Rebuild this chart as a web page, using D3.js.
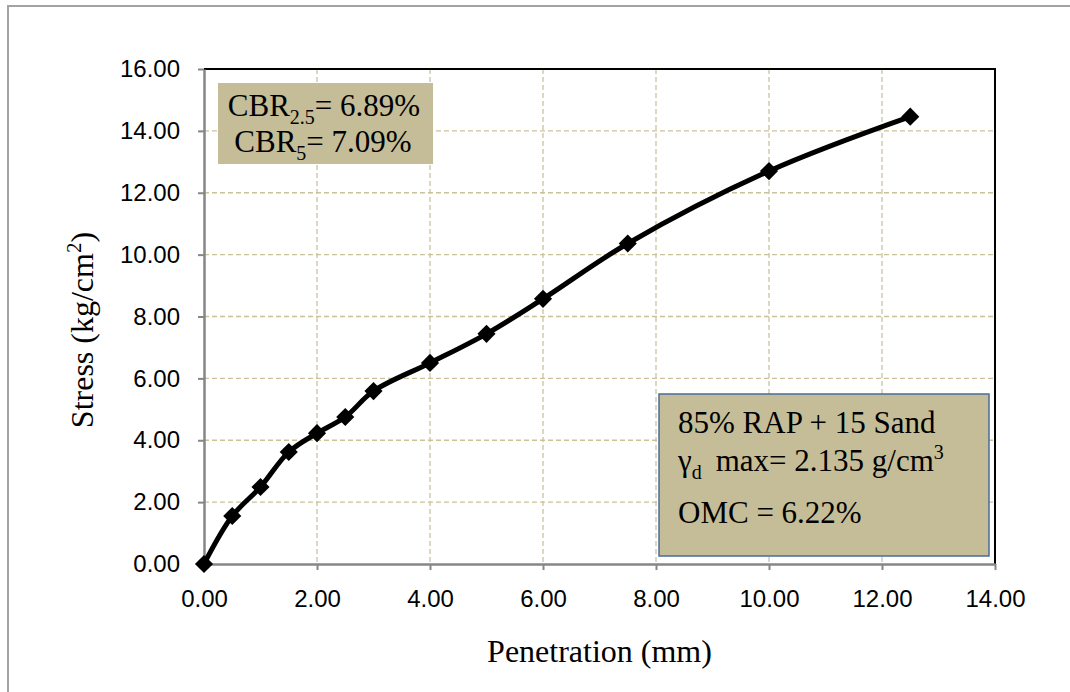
<!DOCTYPE html>
<html>
<head>
<meta charset="utf-8">
<script src="https://cdn.jsdelivr.net/npm/d3@7"></script>
<style>
  body { margin: 0; background: #fff; }
  svg { display: block; }
</style>
</head>
<body>
<script>
const W = 1070, H = 692;

// data
const penetration = [0, 0.5, 1, 1.5, 2, 2.5, 3, 4, 5, 6, 7.5, 10, 12.5];
const stress = [0, 1.55, 2.49, 3.62, 4.23, 4.75, 5.59, 6.5, 7.44, 8.57, 10.36, 12.7, 14.46];
const xTicks = [0, 2, 4, 6, 8, 10, 12, 14];
const yTicks = [0, 2, 4, 6, 8, 10, 12, 14, 16];

const pLeft = 204, pRight = 995, pTop = 69, pBottom = 564;

const svg = d3.select("body").append("svg")
  .attr("width", W)
  .attr("height", H);

// outer chart frame
svg.append("path")
  .attr("d", `M8,${H + 5} L8,6 L${W + 5},6`)
  .attr("fill", "none")
  .attr("stroke", "#a3a3a3")
  .attr("stroke-width", 2);

const x = d3.scaleLinear().domain([0, 14]).range([pLeft, pRight]);
const y = d3.scaleLinear().domain([0, 16]).range([pBottom, pTop]);

// gridlines
const grid = svg.append("g");
grid.selectAll("line.gx")
  .data(xTicks.slice(1, -1))
  .enter().append("line")
  .attr("x1", d => x(d)).attr("x2", d => x(d))
  .attr("y1", pTop).attr("y2", pBottom)
  .attr("stroke", "#cbc29c").attr("stroke-width", 1.3)
  .attr("stroke-dasharray", "5,3");
grid.selectAll("line.gy")
  .data(yTicks.slice(1, -1))
  .enter().append("line")
  .attr("x1", pLeft).attr("x2", pRight)
  .attr("y1", d => y(d)).attr("y2", d => y(d))
  .attr("stroke", "#cbc29c").attr("stroke-width", 1.3)
  .attr("stroke-dasharray", "5,3");

// top and right border
svg.append("path")
  .attr("d", `M${pLeft},${pTop} L${pRight},${pTop} L${pRight},${pBottom}`)
  .attr("fill", "none")
  .attr("stroke", "#000")
  .attr("stroke-width", 2);

// axes
const xAxis = svg.append("g")
  .attr("transform", `translate(0,${pBottom})`)
  .call(d3.axisBottom(x).tickValues(xTicks).tickFormat(d3.format(".2f")).tickSize(6).tickSizeOuter(0).tickPadding(20));
const yAxis = svg.append("g")
  .attr("transform", `translate(${pLeft},0)`)
  .call(d3.axisLeft(y).tickValues(yTicks).tickFormat(d3.format(".2f")).tickSize(6).tickSizeOuter(0).tickPadding(18));

[xAxis, yAxis].forEach(a => {
  a.select(".domain").attr("stroke", "#868686").attr("stroke-width", 2.5);
  a.selectAll(".tick line").attr("stroke", "#868686").attr("stroke-width", 2);
  a.selectAll(".tick text")
    .attr("fill", "#000")
    .style("font-family", "'Liberation Sans', Arial, sans-serif")
    .style("font-size", "24px");
});

// axis titles
const serif = "'Liberation Serif', 'Times New Roman', serif";
svg.append("text")
  .attr("x", (pLeft + pRight) / 2).attr("y", 662)
  .attr("text-anchor", "middle")
  .style("font-family", serif)
  .style("font-size", "32px")
  .text("Penetration (mm)");

const yt = svg.append("text")
  .attr("transform", `translate(93,330) rotate(-90)`)
  .attr("text-anchor", "middle")
  .style("font-family", serif)
  .style("font-size", "32px");
yt.append("tspan").text("Stress (kg/cm");
yt.append("tspan").attr("dy", -12).style("font-size", "21px").text("2");
yt.append("tspan").attr("dy", 12).text(")");

// curve
const pts = penetration.map((p, i) => [p, stress[i]]);
svg.append("path")
  .datum(pts)
  .attr("fill", "none")
  .attr("stroke", "#000")
  .attr("stroke-width", 5)
  .attr("d", d3.line().x(d => x(d[0])).y(d => y(d[1])).curve(d3.curveCatmullRom.alpha(0.5)));

svg.selectAll("path.mk")
  .data(pts)
  .enter().append("path")
  .attr("class", "mk")
  .attr("transform", d => `translate(${x(d[0])},${y(d[1])})`)
  .attr("d", d3.symbol().type(d3.symbolDiamond2).size(210))
  .attr("fill", "#000");

// CBR box
svg.append("rect")
  .attr("x", 218).attr("y", 83).attr("width", 215).attr("height", 81)
  .attr("fill", "#c4bd97");
const c1 = svg.append("text").attr("x", 324).attr("y", 116).attr("text-anchor", "middle")
  .style("font-family", serif).style("font-size", "31px");
c1.append("tspan").text("CBR");
c1.append("tspan").attr("dy", 8).style("font-size", "20px").text("2.5");
c1.append("tspan").attr("dy", -8).text("= 6.89%");
const c2 = svg.append("text").attr("x", 323).attr("y", 152).attr("text-anchor", "middle")
  .style("font-family", serif).style("font-size", "31px");
c2.append("tspan").text("CBR");
c2.append("tspan").attr("dy", 8).style("font-size", "20px").text("5");
c2.append("tspan").attr("dy", -8).text("= 7.09%");

// sample box
svg.append("rect")
  .attr("x", 659).attr("y", 394).attr("width", 330).attr("height", 162)
  .attr("fill", "#c4bd97")
  .attr("stroke", "#4a6c9b").attr("stroke-width", 1.5);
svg.append("text").attr("x", 678).attr("y", 433)
  .style("font-family", serif).style("font-size", "31px")
  .text("85% RAP + 15 Sand");
const g2 = svg.append("text").attr("x", 678).attr("y", 471)
  .style("font-family", serif).style("font-size", "31px");
g2.append("tspan").text("γ");
g2.append("tspan").attr("dy", 8).style("font-size", "20px").text("d");
g2.append("tspan").attr("dy", -8).attr("dx", 14).text("max= 2.135 g/cm");
g2.append("tspan").attr("dy", -12).style("font-size", "20px").text("3");
svg.append("text").attr("x", 678).attr("y", 523)
  .style("font-family", serif).style("font-size", "31px")
  .text("OMC = 6.22%");
</script>
</body>
</html>
